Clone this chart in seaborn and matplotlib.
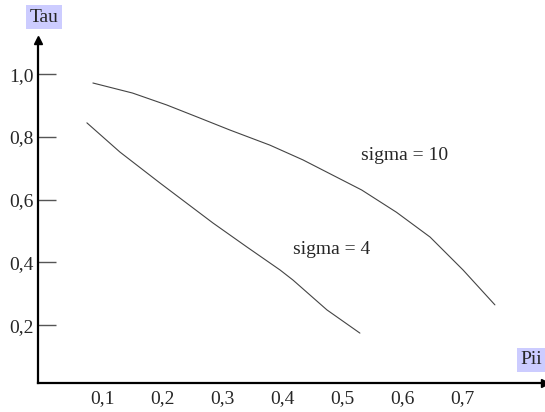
import matplotlib
matplotlib.use("Agg")
import matplotlib.pyplot as plt
import seaborn as sns
import pandas as pd
from matplotlib.ticker import FuncFormatter

# кривые
pii_s10 = [0.084, 0.15, 0.207, 0.26, 0.3125, 0.379, 0.434, 0.532, 0.59, 0.646, 0.701, 0.754]
tau_s10 = [0.972, 0.94, 0.902, 0.862, 0.822, 0.774, 0.727, 0.631, 0.56, 0.481, 0.376, 0.265]
pii_s4 = [0.074, 0.129, 0.196, 0.284, 0.341, 0.396, 0.4175, 0.474, 0.529]
tau_s4 = [0.845, 0.752, 0.653, 0.526, 0.449, 0.376, 0.344, 0.249, 0.175]

x_ticks = [0.1, 0.2, 0.3, 0.4, 0.5, 0.6, 0.7]
y_ticks = [0.2, 0.4, 0.6, 0.8, 1.0]

df = pd.concat([
    pd.DataFrame({"Pii": pii_s10, "Tau": tau_s10, "curve": "sigma = 10"}),
    pd.DataFrame({"Pii": pii_s4, "Tau": tau_s4, "curve": "sigma = 4"}),
])

sns.set_style("white")
plt.rcParams["font.family"] = ["Liberation Serif", "DejaVu Serif"]
FS = 14

fig = plt.figure(figsize=(5.45, 4.12), dpi=100)
ax = fig.add_axes([38 / 545, 29 / 412, 507 / 545, 343 / 412])

sns.lineplot(data=df, x="Pii", y="Tau", units="curve", estimator=None,
             color="#444444", linewidth=0.8, sort=False, ax=ax)

ax.set_xlim(-0.0075, 0.8375)
ax.set_ylim(0.016, 1.109)
ax.set_xlabel("")
ax.set_ylabel("")

fmt = FuncFormatter(lambda v, p: f"{v:.1f}".replace(".", ","))
ax.set_xticks(x_ticks)
ax.set_yticks(y_ticks)
ax.xaxis.set_major_formatter(fmt)
ax.yaxis.set_major_formatter(fmt)
ax.tick_params(axis="x", length=0, pad=5, labelsize=FS)
ax.tick_params(axis="y", direction="in", length=13, width=1, color="#555555",
               pad=3, labelsize=FS, left=True)

# оси со стрелками
for s in ["top", "right"]:
    ax.spines[s].set_visible(False)
for s in ["left", "bottom"]:
    ax.spines[s].set_linewidth(1.6)
    ax.spines[s].set_color("black")
ax.plot(1, 0, ">k", markersize=6, transform=ax.transAxes, clip_on=False)
ax.plot(0, 1, "^k", markersize=6, transform=ax.transAxes, clip_on=False)

# подписи кривых
ax.text(0.604, 0.742, "sigma = 10", ha="center", va="center", fontsize=FS)
ax.text(0.482, 0.44, "sigma = 4", ha="center", va="center", fontsize=FS)

box = dict(facecolor="#ccccff", edgecolor="none", pad=2.5)
fig.text(44 / 545, 1 - 17 / 412, "Tau", ha="center", va="center",
         fontsize=FS, bbox=box)
fig.text(531 / 545, 1 - 360 / 412, "Pii", ha="center", va="center",
         fontsize=FS, bbox=box)

plt.savefig("out.png", dpi=100)
plt.close()
